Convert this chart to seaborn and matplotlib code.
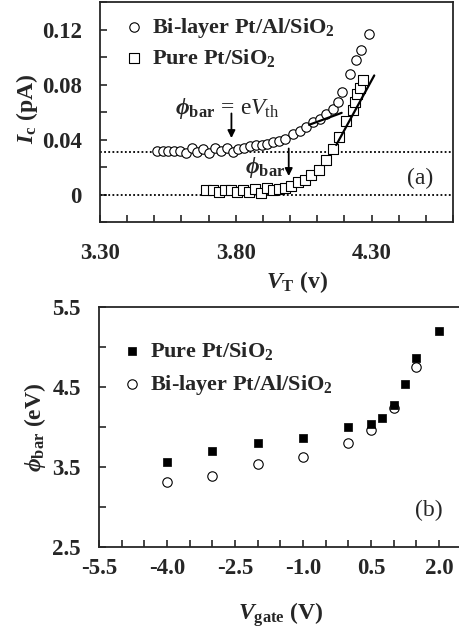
import matplotlib

matplotlib.use("Agg")
import matplotlib.pyplot as plt
import seaborn as sns
from matplotlib.ticker import MultipleLocator

# ---- panel (a): collector current vs tip voltage ----
vt_bilayer = [3.510, 3.532, 3.550, 3.572, 3.594, 3.616, 3.638, 3.657, 3.679,
              3.700, 3.723, 3.745, 3.767, 3.789, 3.807, 3.829, 3.851, 3.874,
              3.896, 3.914, 3.936, 3.958, 3.980, 4.010, 4.035, 4.060, 4.085,
              4.110, 4.134, 4.157, 4.175, 4.190, 4.220, 4.244, 4.262, 4.290]
ic_bilayer = [0.032, 0.032, 0.032, 0.032, 0.032, 0.030, 0.034, 0.031, 0.033,
              0.030, 0.034, 0.032, 0.034, 0.031, 0.033, 0.034, 0.035, 0.036,
              0.036, 0.037, 0.038, 0.039, 0.0405, 0.044, 0.046, 0.049, 0.0527,
              0.055, 0.0587, 0.062, 0.0674, 0.0745, 0.088, 0.0975, 0.105, 0.117]
vt_pure = [3.692, 3.715, 3.737, 3.760, 3.782, 3.804, 3.826, 3.848, 3.870,
           3.892, 3.914, 3.936, 3.958, 3.980, 4.005, 4.029, 4.054, 4.078,
           4.106, 4.131, 4.158, 4.182, 4.207, 4.230, 4.238, 4.245, 4.256, 4.267]
ic_pure = [0.003, 0.003, 0.002, 0.003, 0.003, 0.002, 0.003, 0.002, 0.004,
           0.001, 0.005, 0.003, 0.004, 0.005, 0.006, 0.009, 0.0107, 0.0143,
           0.0182, 0.0253, 0.0329, 0.0418, 0.0532, 0.0615, 0.0676, 0.0728,
           0.0776, 0.083]
# tangent lines used to extract the threshold
fit_bilayer_v = [4.07, 4.19]
fit_bilayer_i = [0.0507, 0.0594]
fit_pure_v = [4.17, 4.31]
fit_pure_i = [0.036, 0.0866]
baselines = [0.031, 0.0]
vt_ticks = [3.30, 3.80, 4.30]
vt_labels = ["3.30", "3.80", "4.30"]
ic_ticks = [0.0, 0.04, 0.08, 0.12]
ic_labels = ["0", "0.04", "0.08", "0.12"]

# ---- panel (b): barrier height vs gate voltage ----
vgate_pure = [-4.0, -3.0, -2.0, -1.0, 0.0, 0.5, 0.75, 1.0, 1.25, 1.5, 2.0]
phi_pure = [3.56, 3.70, 3.80, 3.86, 4.00, 4.04, 4.11, 4.27, 4.54, 4.86, 5.20]
vgate_bilayer = [-4.0, -3.0, -2.0, -1.0, 0.0, 0.5, 1.0, 1.5]
phi_bilayer = [3.31, 3.39, 3.54, 3.63, 3.80, 3.96, 4.24, 4.75]
vgate_ticks = [-5.5, -4.0, -2.5, -1.0, 0.5, 2.0]
vgate_labels = ["-5.5", "-4.0", "-2.5", "-1.0", "0.5", "2.0"]
phi_ticks = [2.5, 3.5, 4.5, 5.5]
phi_labels = ["2.5", "3.5", "4.5", "5.5"]

sns.set_style("ticks")
plt.rcParams["font.family"] = ["Liberation Serif", "DejaVu Serif"]
plt.rcParams["font.weight"] = "bold"
plt.rcParams["axes.labelweight"] = "bold"
plt.rcParams["axes.unicode_minus"] = False
plt.rcParams["mathtext.fontset"] = "custom"
plt.rcParams["mathtext.rm"] = "Liberation Serif:normal"
plt.rcParams["mathtext.it"] = "Liberation Serif:italic:normal"
plt.rcParams["mathtext.bf"] = "Liberation Serif:bold"
plt.rcParams["mathtext.bfit"] = "Liberation Serif:italic:bold"

fig = plt.figure(figsize=(4.59, 6.29), dpi=100)
ax1 = fig.add_axes([0.2179, 0.647, 0.769, 0.3498])
ax2 = fig.add_axes([0.2157, 0.1304, 0.790, 0.3816])

# panel (a)
for yb in baselines:
    ax1.axhline(yb, color="black", lw=1.3, ls=(0, (1, 1.3)), zorder=1)
sns.scatterplot(x=vt_bilayer, y=ic_bilayer, marker="o", s=46, facecolor="white",
                edgecolor="black", linewidth=0.8, label="Bi-layer Pt/Al/SiO$_\\mathbf{2}$",
                ax=ax1, zorder=3)
sns.scatterplot(x=vt_pure, y=ic_pure, marker="s", s=44, facecolor="white",
                edgecolor="black", linewidth=0.8, label="Pure Pt/SiO$_\\mathbf{2}$",
                ax=ax1, zorder=3)
sns.lineplot(x=fit_bilayer_v, y=fit_bilayer_i, color="black", lw=1.6, ax=ax1, zorder=4)
sns.lineplot(x=fit_pure_v, y=fit_pure_i, color="black", lw=1.6, ax=ax1, zorder=4)

ax1.annotate("", xy=(3.784, 0.039), xytext=(3.784, 0.061),
             arrowprops=dict(arrowstyle="-|>", color="black", lw=1.3, mutation_scale=11))
ax1.annotate("", xy=(3.995, 0.0114), xytext=(3.995, 0.0355),
             arrowprops=dict(arrowstyle="-|>", color="black", lw=1.3, mutation_scale=11))
ax1.text(3.767, 0.0625, r"$\mathbfit{\phi}_{\mathbf{bar}}\mathrm{\,=\,e}\mathit{V}_{\mathrm{th}}$",
         fontsize=17, ha="center", va="center")
ax1.text(3.907, 0.020, r"$\mathbfit{\phi}_{\mathbf{bar}}$", fontsize=17, ha="center", va="center")
ax1.text(4.48, 0.0114, "(a)", fontsize=17, fontweight="normal", ha="center", va="center")

ax1.set_xlim(3.3, 4.6)
ax1.set_ylim(-0.02, 0.14)
ax1.set_xticks(vt_ticks, vt_labels)
ax1.set_yticks(ic_ticks, ic_labels)
ax1.xaxis.set_minor_locator(MultipleLocator(0.1))
ax1.yaxis.set_minor_locator(MultipleLocator(0.02))
ax1.tick_params(axis="both", which="both", direction="in", length=5, width=1.2,
                labelsize=16.5)
ax1.tick_params(axis="x", which="major", pad=15)
ax1.tick_params(axis="y", which="major", pad=13)
ax1.set_xlabel(r"$\mathbfit{V}_{\mathbf{T}}$ (v)", fontsize=17)
ax1.set_ylabel(r"$\mathbfit{I}_{\mathbf{c}}$ (pA)", fontsize=17)
ax1.xaxis.set_label_coords(0.558, -0.212)
ax1.yaxis.set_label_coords(-0.17, 0.514)
for sp in ax1.spines.values():
    sp.set_linewidth(1.3)
ax1.legend(loc="upper left", bbox_to_anchor=(0.058, 0.935), frameon=False,
           fontsize=16, handletextpad=0.2, labelspacing=0.3, borderpad=0,
           borderaxespad=0, handlelength=1.2)

# panel (b)
sns.scatterplot(x=vgate_pure, y=phi_pure, marker="s", s=30, color="black",
                edgecolor="black", linewidth=0.5, label="Pure Pt/SiO$_\\mathbf{2}$",
                ax=ax2, zorder=3)
sns.scatterplot(x=vgate_bilayer, y=phi_bilayer, marker="o", s=46, facecolor="white",
                edgecolor="black", linewidth=0.8, label="Bi-layer Pt/Al/SiO$_\\mathbf{2}$",
                ax=ax2, zorder=2)
ax2.text(1.78, 2.96, "(b)", fontsize=17, fontweight="normal", ha="center", va="center")

ax2.set_xlim(-5.5, 2.5)
ax2.set_ylim(2.5, 5.5)
ax2.set_xticks(vgate_ticks, vgate_labels)
ax2.set_yticks(phi_ticks, phi_labels)
ax2.xaxis.set_minor_locator(MultipleLocator(0.5))
ax2.yaxis.set_minor_locator(MultipleLocator(0.5))
ax2.tick_params(axis="both", which="both", direction="in", length=5, width=1.2,
                labelsize=16.5)
ax2.tick_params(axis="x", which="major", pad=8)
ax2.tick_params(axis="y", which="major", pad=13)
ax2.set_xlabel(r"$\mathbfit{V}_{\mathbf{gate}}$ (V)", fontsize=17)
ax2.set_ylabel(r"$\mathbfit{\phi}_{\mathbf{bar}}$ (eV)", fontsize=17)
ax2.xaxis.set_label_coords(0.502, -0.222)
ax2.yaxis.set_label_coords(-0.14, 0.5)
for sp in ax2.spines.values():
    sp.set_linewidth(1.3)
ax2.legend(loc="upper left", bbox_to_anchor=(0.055, 0.862), frameon=False,
           fontsize=16, handletextpad=0.2, labelspacing=0.5, borderpad=0,
           borderaxespad=0, handlelength=1.2)

fig.savefig("out.png", dpi=100)
plt.close(fig)
